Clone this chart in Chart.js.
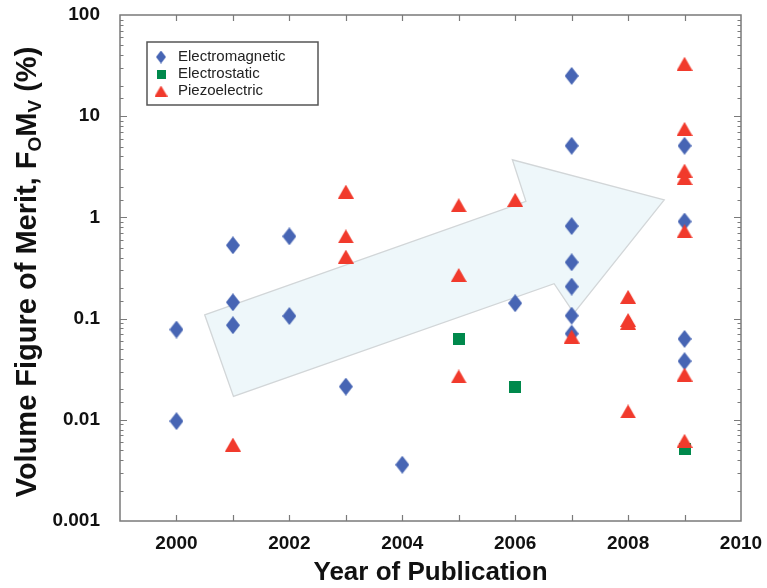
<!DOCTYPE html>
<html>
<head>
<meta charset="utf-8">
<script src="https://cdn.jsdelivr.net/npm/chart.js@4.4.1/dist/chart.umd.min.js"></script>
<style>
  html, body { margin: 0; padding: 0; background: #fff; }
  #wrap { width: 767px; height: 588px; position: relative; }
</style>
</head>
<body>
<div id="wrap"><canvas id="fomChart"></canvas></div>
<script>
// harvester volume figure of merit by year of publication
const emYears  = [2000, 2000, 2001, 2001, 2001, 2002, 2002, 2003, 2004, 2006, 2007, 2007, 2007, 2007, 2007, 2007, 2007, 2009, 2009, 2009, 2009];
const emValues = [0.078, 0.0097, 0.53, 0.145, 0.086, 0.65, 0.106, 0.0213, 0.0036, 0.142, 25, 5.1, 0.82, 0.36, 0.207, 0.107, 0.071, 5.1, 0.91, 0.063, 0.038];

const esYears  = [2005, 2006, 2009];
const esValues = [0.063, 0.021, 0.0051];

const pzYears  = [2001, 2003, 2003, 2003, 2005, 2005, 2005, 2006, 2007, 2008, 2008, 2008, 2008, 2009, 2009, 2009, 2009, 2009, 2009, 2009];
const pzValues = [0.0057, 1.8, 0.65, 0.41, 1.32, 0.27, 0.0268, 1.49, 0.0665, 0.164, 0.097, 0.091, 0.0121, 33, 7.5, 2.9, 2.45, 0.73, 0.028, 0.0062];

const seriesNames = ['Electromagnetic', 'Electrostatic', 'Piezoelectric'];
const yTickLabels = [0.001, 0.01, 0.1, 1, 10, 100];
const xTickLabels = [2000, 2002, 2004, 2006, 2008, 2010];

// trend arrow outline, in (year, value) pairs
const arrowPath = [
  [2000.50, 0.109], [2006.19, 1.44], [2005.95, 3.71], [2008.64, 1.49],
  [2007.04, 0.113], [2006.69, 0.221], [2001.01, 0.017]
];

const FONT = '"Liberation Sans", Arial, Helvetica, sans-serif';
const BLUE = '#4765b4', GREEN = '#00894c', RED = '#f13a2c';

function toPoints(xs, ys) {
  return xs.map((x, i) => ({ x: x, y: ys[i] }));
}

// marker images, diamond is taller than wide
function makeMarker(kind, color, w, h) {
  const c = document.createElement('canvas');
  c.width = w; c.height = h;
  const g = c.getContext('2d');
  g.fillStyle = color;
  g.beginPath();
  if (kind === 'diamond') {
    g.moveTo(w / 2, 0); g.lineTo(w, h / 2); g.lineTo(w / 2, h); g.lineTo(0, h / 2);
  } else if (kind === 'triangle') {
    g.moveTo(w / 2, 0); g.lineTo(w, h); g.lineTo(0, h);
  } else {
    g.rect(0, 0, w, h);
  }
  g.closePath();
  g.fill();
  return c;
}

const markers = [
  makeMarker('diamond', BLUE, 14, 18),
  makeMarker('square', GREEN, 12, 12),
  makeMarker('triangle', RED, 16, 14)
];
const legendMarkers = [
  makeMarker('diamond', BLUE, 10, 13),
  makeMarker('square', GREEN, 9, 9),
  makeMarker('triangle', RED, 13, 11)
];

function isDecade(v) {
  const l = Math.log10(v);
  return Math.abs(l - Math.round(l)) < 1e-9;
}

const arrowPlugin = {
  id: 'trendArrow',
  beforeDatasetsDraw(chart) {
    const { ctx, scales: { x, y } } = chart;
    ctx.save();
    ctx.beginPath();
    arrowPath.forEach((p, i) => {
      const px = x.getPixelForValue(p[0]), py = y.getPixelForValue(p[1]);
      if (i === 0) ctx.moveTo(px, py); else ctx.lineTo(px, py);
    });
    ctx.closePath();
    ctx.fillStyle = '#eef7fa';
    ctx.fill();
    ctx.strokeStyle = '#d2d6d8';
    ctx.lineWidth = 1.3;
    ctx.stroke();
    ctx.restore();
  }
};

const framePlugin = {
  id: 'frame',
  afterDraw(chart) {
    const { ctx, chartArea: a, scales: { x, y } } = chart;
    ctx.save();
    ctx.strokeStyle = '#7a7a7a';
    ctx.lineWidth = 1.5;
    ctx.strokeRect(a.left, a.top, a.right - a.left, a.bottom - a.top);

    // inward ticks on all four sides
    ctx.lineWidth = 1.2;
    ctx.beginPath();
    for (let yr = x.min + 1; yr < x.max; yr++) {
      const px = Math.round(x.getPixelForValue(yr)) + 0.5;
      ctx.moveTo(px, a.bottom); ctx.lineTo(px, a.bottom - 6);
      ctx.moveTo(px, a.top); ctx.lineTo(px, a.top + 6);
    }
    y.ticks.forEach(t => {
      if (t.value <= y.min || t.value >= y.max) return;
      const py = Math.round(y.getPixelForValue(t.value)) + 0.5;
      const len = isDecade(t.value) ? 7 : 3.5;
      ctx.moveTo(a.left, py); ctx.lineTo(a.left + len, py);
      ctx.moveTo(a.right, py); ctx.lineTo(a.right - len, py);
    });
    ctx.stroke();

    // y axis title with subscripts
    const big = 'bold 29px ' + FONT, small = 'bold 19px ' + FONT;
    const parts = [
      ['Volume Figure of Merit, F', big, 0],
      ['O', small, 5],
      ['M', big, 0],
      ['V', small, 5],
      [' (%)', big, 0]
    ];
    let total = 0;
    parts.forEach(p => { ctx.font = p[1]; total += ctx.measureText(p[0]).width; });
    ctx.translate(36, 272);
    ctx.rotate(-Math.PI / 2);
    ctx.fillStyle = '#111';
    ctx.textBaseline = 'alphabetic';
    let cx = -total / 2;
    parts.forEach(p => {
      ctx.font = p[1];
      ctx.fillText(p[0], cx, p[2]);
      cx += ctx.measureText(p[0]).width;
    });
    ctx.restore();

    // legend box inside the plot
    ctx.save();
    const lx = a.left + 27, ly = a.top + 27, lw = 171, lh = 63;
    ctx.fillStyle = '#fff';
    ctx.fillRect(lx, ly, lw, lh);
    ctx.strokeStyle = '#555';
    ctx.lineWidth = 1.5;
    ctx.strokeRect(lx, ly, lw, lh);
    ctx.font = '15px ' + FONT;
    ctx.fillStyle = '#222';
    ctx.textBaseline = 'middle';
    chart.data.datasets.forEach((ds, i) => {
      const m = legendMarkers[i];
      const my = ly + 15 + i * 17;
      ctx.drawImage(m, lx + 14 - m.width / 2, my - m.height / 2);
      ctx.fillText(ds.label, lx + 31, my);
    });
    ctx.restore();
  }
};

new Chart(document.getElementById('fomChart'), {
  type: 'scatter',
  data: {
    datasets: [
      { label: seriesNames[0], data: toPoints(emYears, emValues), pointStyle: markers[0], order: 3 },
      { label: seriesNames[1], data: toPoints(esYears, esValues), pointStyle: markers[1], order: 2 },
      { label: seriesNames[2], data: toPoints(pzYears, pzValues), pointStyle: markers[2], order: 1 }
    ]
  },
  options: {
    responsive: true,
    maintainAspectRatio: false,
    animation: false,
    layout: { padding: { top: 15, right: 26, left: 0, bottom: 0 } },
    plugins: {
      legend: { display: false },
      tooltip: { enabled: false }
    },
    scales: {
      x: {
        type: 'linear',
        min: 1999,
        max: 2010,
        afterFit: s => { s.height = 67; s.paddingLeft = 0; s.paddingRight = 0; },
        grid: { display: false, drawTicks: false },
        border: { display: false },
        ticks: {
          stepSize: 1,
          autoSkip: false,
          maxRotation: 0,
          padding: 11,
          color: '#111',
          font: { family: FONT, size: 19, weight: 'bold' },
          callback: v => xTickLabels.includes(v) ? String(v) : ''
        },
        title: {
          display: true,
          text: 'Year of Publication',
          color: '#111',
          padding: { top: 0, bottom: 0 },
          font: { family: FONT, size: 26, weight: 'bold' }
        }
      },
      y: {
        type: 'logarithmic',
        min: 0.001,
        max: 100,
        afterFit: s => { s.width = 120; s.paddingTop = 0; s.paddingBottom = 0; },
        grid: { display: false, drawTicks: false },
        border: { display: false },
        ticks: {
          autoSkip: false,
          padding: 20,
          color: '#111',
          font: { family: FONT, size: 19, weight: 'bold' },
          callback: v => (isDecade(v) && yTickLabels.some(t => Math.abs(t - v) < t * 1e-6)) ? String(v) : ''
        }
      }
    }
  },
  plugins: [arrowPlugin, framePlugin]
});
</script>
</body>
</html>
